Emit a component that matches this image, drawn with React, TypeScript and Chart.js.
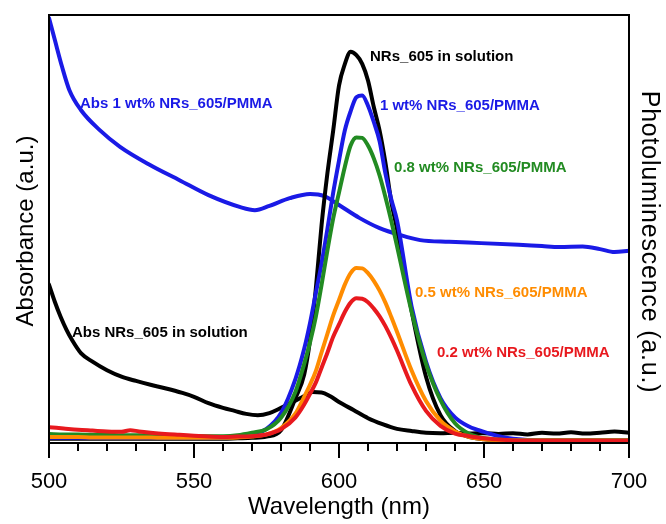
import React, { useEffect, useRef } from "react";
import { Chart, registerables } from "chart.js";

Chart.register(...registerables);

// ---- Absorbance spectra ----
const absFilmWavelengths = [500, 502, 504.5, 507, 511, 517.5, 524.5, 535, 545, 555, 566, 571, 576, 583, 590, 595, 600, 607, 614, 621, 628, 638, 649, 662, 670, 676, 684, 690, 695, 700];
const absFilm1wt = [99.3, 94.2, 87.9, 82.5, 77.8, 73.1, 69.2, 64.9, 61.4, 57.9, 55.1, 54.4, 55.4, 57.2, 58.2, 57.7, 55.6, 52.6, 50.2, 48.6, 47.4, 47.0, 46.7, 46.3, 46.0, 45.8, 45.9, 45.3, 44.6, 44.9];

const absSolWavelengths = [500, 502, 504, 506, 508, 511, 515, 520, 525, 530, 535, 540, 546, 550, 555, 560, 564, 568, 572, 576, 580, 584, 588, 591, 594, 597, 600, 605, 610, 615, 620, 625, 630, 635, 640, 645, 650, 655, 660, 665, 670, 675, 680, 685, 690, 695, 700];
const absSolution = [37, 33, 29.5, 26.5, 24, 21, 19, 17, 15.5, 14.5, 13.6, 12.8, 11.7, 10.8, 9.3, 8.2, 7.5, 6.8, 6.5, 7.0, 8.2, 9.5, 11.0, 11.9, 11.8, 10.9, 9.6, 7.7, 5.8, 4.4, 3.3, 2.8, 2.4, 2.3, 2.4, 2.2, 2.3, 2.1, 2.3, 2.0, 2.4, 2.2, 2.5, 2.2, 2.4, 2.7, 2.4];

// ---- Photoluminescence spectra ----
const plWavelengths = [500, 505, 510, 515, 520, 525, 528, 531, 535, 540, 545, 550, 555, 560, 565, 570, 575, 580, 585, 588, 590, 592, 594, 596, 598, 600, 602, 604, 606, 608, 610, 612, 614, 616, 618, 620, 625, 630, 635, 640, 645, 650, 655, 660, 670, 680, 690, 700];
const plSolution = [1.0, 1.0, 1.0, 1.0, 1.0, 1.0, 1.0, 1.0, 1.0, 1.0, 1.0, 1.0, 1.0, 1.0, 1.1, 1.2, 1.5, 3.0, 10.5, 16, 24, 36, 51, 63, 73, 83.5, 88.5, 91.4, 90.6, 88.6, 84.7, 78.5, 73, 65.5, 56.5, 50, 31, 15.5, 6.5, 2.8, 1.4, 0.9, 0.7, 0.6, 0.6, 0.6, 0.6, 0.6];
const pl1wt = [1.2, 1.2, 1.2, 1.2, 1.2, 1.2, 1.2, 1.2, 1.2, 1.2, 1.2, 1.2, 1.2, 1.2, 1.5, 2.0, 3.3, 7, 15, 22, 28, 35, 42, 50, 58.5, 66, 73, 77.5, 80.8, 81.2, 78.8, 75, 70.5, 63, 57, 52, 32, 19, 10.5, 6, 3.8, 2.6, 1.6, 1.0, 0.6, 0.6, 0.6, 0.6];
const pl08wt = [2.1, 2.0, 2.0, 1.9, 1.9, 1.8, 1.8, 1.8, 1.7, 1.7, 1.6, 1.6, 1.6, 1.6, 1.8, 2.4, 3.2, 5.9, 12, 18.5, 23.5, 29.5, 37, 45, 52.5, 58.5, 64.5, 69.5, 71.4, 71.3, 69.5, 66.5, 62.5, 57.5, 52, 46, 30.8, 18.5, 10, 4.6, 2.1, 1.1, 0.8, 0.6, 0.6, 0.6, 0.6, 0.6];
const pl05wt = [1.4, 1.4, 1.4, 1.3, 1.3, 1.3, 1.3, 1.3, 1.3, 1.2, 1.2, 1.2, 1.2, 1.2, 1.3, 1.5, 2.0, 3.5, 6.9, 10.8, 13.6, 16.8, 21.2, 25.5, 29.8, 33.4, 37, 39.7, 40.9, 40.8, 39.7, 37.9, 35.6, 32.8, 29.5, 26, 17, 9.8, 5.2, 2.7, 1.4, 0.9, 0.7, 0.6, 0.6, 0.6, 0.6, 0.6];
const pl02wt = [3.7, 3.4, 3.1, 2.9, 2.7, 2.6, 3.0, 2.7, 2.4, 2.1, 1.9, 1.7, 1.5, 1.4, 1.5, 1.6, 2.0, 3.2, 6.0, 9.0, 11.5, 14.1, 17.6, 21.1, 24.8, 27.7, 30.6, 32.8, 33.8, 33.7, 32.9, 31.4, 29.6, 27.3, 24.6, 21.6, 13.5, 7.5, 4.0, 2.2, 1.6, 1.1, 0.8, 0.6, 0.5, 0.5, 0.5, 0.5];

// ---- Axis text ----
const xMajorTicks = [500, 550, 600, 650, 700];
const xMinorStep = 10;
const xTitle = "Wavelength (nm)";
const yLeftTitle = "Absorbance (a.u.)";
const yRightTitle = "Photoluminescence (a.u.)";

// ---- Colours ----
const BLUE = "#1a1ae6";
const BLACK = "#000000";
const GREEN = "#228b22";
const ORANGE = "#ff8c00";
const RED = "#e8191e";

// Curve labels, anchored (text baseline, left edge) in data coordinates
const curveLabels = [
  { text: "Abs 1 wt% NRs_605/PMMA", color: BLUE, wl: 510.7, value: 78.3, axis: "yAbs" },
  { text: "Abs NRs_605 in solution", color: BLACK, wl: 507.9, value: 24.8, axis: "yAbs" },
  { text: "NRs_605 in solution", color: BLACK, wl: 610.7, value: 89.3, axis: "yPL" },
  { text: "1 wt% NRs_605/PMMA", color: BLUE, wl: 614.1, value: 77.8, axis: "yPL" },
  { text: "0.8 wt% NRs_605/PMMA", color: GREEN, wl: 619, value: 63.3, axis: "yPL" },
  { text: "0.5 wt% NRs_605/PMMA", color: ORANGE, wl: 626.2, value: 34.1, axis: "yPL" },
  { text: "0.2 wt% NRs_605/PMMA", color: RED, wl: 633.8, value: 20.1, axis: "yPL" },
];

const FONT = '"Liberation Sans", Arial, Helvetica, sans-serif';

const toPoints = (xs: number[], ys: number[]) => xs.map((x, i) => ({ x, y: ys[i] }));

const axesPlugin = {
  id: "spectrumAxes",
  afterDraw(chart: any) {
    const { ctx, chartArea } = chart;
    const { left, right, top, bottom } = chartArea;
    const xs = chart.scales.x;
    ctx.save();

    // frame
    ctx.strokeStyle = "#000";
    ctx.lineWidth = 2;
    ctx.strokeRect(left, top, right - left, bottom - top);

    // x ticks: major every 50 nm, minor every 10 nm
    for (let v = xMajorTicks[0]; v <= xMajorTicks[xMajorTicks.length - 1]; v += xMinorStep) {
      const px = Math.round(xs.getPixelForValue(v));
      const major = xMajorTicks.includes(v);
      ctx.beginPath();
      ctx.moveTo(px, bottom);
      ctx.lineTo(px, bottom + (major ? 15 : 8));
      ctx.stroke();
    }

    ctx.fillStyle = "#000";
    ctx.textAlign = "center";
    ctx.textBaseline = "alphabetic";
    ctx.font = `22px ${FONT}`;
    xMajorTicks.forEach((v) => ctx.fillText(String(v), xs.getPixelForValue(v), 488));

    ctx.font = `24px ${FONT}`;
    ctx.fillText(xTitle, (left + right) / 2, 514);

    // left axis title
    ctx.save();
    ctx.translate(33, 231);
    ctx.rotate(-Math.PI / 2);
    ctx.fillText(yLeftTitle, 0, 0);
    ctx.restore();

    // right axis title
    ctx.save();
    ctx.translate(642, 242);
    ctx.rotate(Math.PI / 2);
    ctx.font = `25px ${FONT}`;
    (ctx as any).letterSpacing = "0.8px";
    ctx.fillText(yRightTitle, 0, 0);
    ctx.restore();

    // curve labels
    ctx.font = `bold 15px ${FONT}`;
    ctx.textAlign = "left";
    ctx.textBaseline = "alphabetic";
    curveLabels.forEach((l) => {
      ctx.fillStyle = l.color;
      ctx.fillText(l.text, xs.getPixelForValue(l.wl), chart.scales[l.axis].getPixelForValue(l.value));
    });

    ctx.restore();
  },
};

export default function App() {
  const canvasRef = useRef<HTMLCanvasElement | null>(null);

  useEffect(() => {
    const canvas = canvasRef.current;
    if (!canvas) return;
    const line = (label: string, color: string, xs: number[], ys: number[], axis: string, order: number) => ({
      label,
      data: toPoints(xs, ys),
      borderColor: color,
      backgroundColor: color,
      yAxisID: axis,
      order,
      fill: false,
    });
    const chart = new Chart(canvas, {
      type: "line",
      data: {
        datasets: [
          line("0.2 wt% NRs_605/PMMA", RED, plWavelengths, pl02wt, "yPL", 0),
          line("0.5 wt% NRs_605/PMMA", ORANGE, plWavelengths, pl05wt, "yPL", 1),
          line("0.8 wt% NRs_605/PMMA", GREEN, plWavelengths, pl08wt, "yPL", 2),
          line("1 wt% NRs_605/PMMA", BLUE, plWavelengths, pl1wt, "yPL", 3),
          line("NRs_605 in solution", BLACK, plWavelengths, plSolution, "yPL", 4),
          line("Abs 1 wt% NRs_605/PMMA", BLUE, absFilmWavelengths, absFilm1wt, "yAbs", 5),
          line("Abs NRs_605 in solution", BLACK, absSolWavelengths, absSolution, "yAbs", 6),
        ] as any,
      },
      options: {
        responsive: false,
        animation: false,
        layout: { padding: { left: 49, top: 15, right: 37, bottom: 81 } },
        plugins: { legend: { display: false }, tooltip: { enabled: false } },
        elements: {
          point: { radius: 0 },
          line: { borderWidth: 4, cubicInterpolationMode: "monotone", borderCapStyle: "round", borderJoinStyle: "round" },
        },
        scales: {
          x: { type: "linear", min: 500, max: 700, display: false },
          yAbs: { type: "linear", min: 0, max: 100, display: false },
          yPL: { type: "linear", min: 0, max: 100, display: false },
        },
      } as any,
      plugins: [axesPlugin],
    });
    return () => chart.destroy();
  }, []);

  return (
    <div style={{ position: "absolute", left: 0, top: 0, width: 666, height: 524, background: "#fff" }}>
      <canvas ref={canvasRef} width={666} height={524} style={{ display: "block" }} />
    </div>
  );
}
